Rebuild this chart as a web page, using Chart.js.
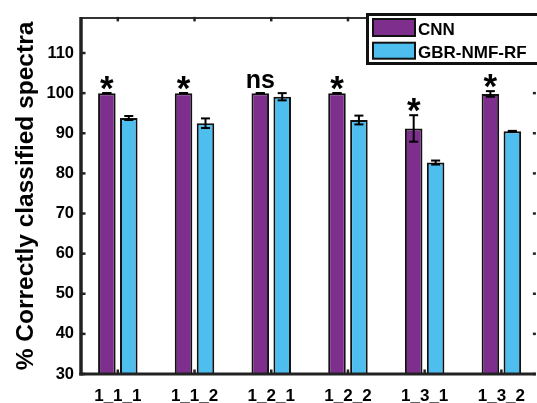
<!DOCTYPE html>
<html>
<head>
<meta charset="utf-8">
<script src="https://cdn.jsdelivr.net/npm/chart.js@4/dist/chart.umd.min.js"></script>
<style>
  html, body { margin: 0; padding: 0; background: #fff; }
  #c { display: block; }
</style>
</head>
<body>
<canvas id="c" width="537" height="403"></canvas>
<script>
// Classification accuracy per spectral subset, two methods
const categories   = ['1_1_1', '1_1_2', '1_2_1', '1_2_2', '1_3_1', '1_3_2'];
const cnnValues    = [100, 100, 100, 100, 91.2, 99.8];
const cnnErrors    = [0, 0, 0, 0, 3.3, 0.7];
const gbrValues    = [93.8, 92.5, 99.1, 93.3, 82.7, 90.5];
const gbrErrors    = [0.5, 1.2, 0.9, 1.1, 0.5, 0.1];
const significance = ['*', '*', 'ns', '*', '*', '*'];
const yTicks       = [30, 40, 50, 60, 70, 80, 90, 100, 110];
const seriesNames  = ['CNN', 'GBR-NMF-RF'];

const FAMILY = "'Liberation Sans', Arial, Helvetica, sans-serif";
const PURPLE = '#7E2F8E';
const CYAN   = '#4DBEEE';
const INK    = '#111';

function line(ctx, x1, y1, x2, y2) {
  ctx.beginPath();
  ctx.moveTo(x1, y1);
  ctx.lineTo(x2, y2);
  ctx.stroke();
}

// Error bars, significance marks, axis frame, legend and y title
const decorations = {
  id: 'decorations',
  afterDatasetsDraw(chart) {
    const { ctx, chartArea: a, scales: { x, y } } = chart;
    ctx.save();

    // error bars
    ctx.strokeStyle = '#000';
    ctx.lineWidth = 2;
    [[cnnValues, cnnErrors], [gbrValues, gbrErrors]].forEach(([vals, errs], di) => {
      chart.getDatasetMeta(di).data.forEach((bar, i) => {
        const yt = y.getPixelForValue(vals[i] + errs[i]);
        const yb = y.getPixelForValue(vals[i] - errs[i]);
        const cw = 4.5;
        line(ctx, bar.x, yt, bar.x, yb);
        line(ctx, bar.x - cw, yt, bar.x + cw, yt);
        line(ctx, bar.x - cw, yb, bar.x + cw, yb);
      });
    });

    // significance marks above the CNN bars
    ctx.fillStyle = '#000';
    ctx.textAlign = 'center';
    ctx.textBaseline = 'alphabetic';
    const cnnMeta = chart.getDatasetMeta(0);
    significance.forEach((s, i) => {
      const bar = cnnMeta.data[i];
      const top = y.getPixelForValue(cnnValues[i] + cnnErrors[i]);
      const star = s === '*';
      ctx.font = `bold ${star ? 35 : 25}px ${FAMILY}`;
      const m = ctx.measureText(s);
      const gap = star ? 3.5 : 5;
      ctx.fillText(s, bar.x, top - gap - m.actualBoundingBoxDescent);
    });

    // frame
    ctx.strokeStyle = '#333';
    ctx.lineWidth = 2;
    line(ctx, a.left, a.top + 1, a.right, a.top + 1);
    ctx.strokeStyle = '#222';
    ctx.lineWidth = 3.5;
    line(ctx, a.left, a.top, a.left, a.bottom + 1.5);
    ctx.lineWidth = 3;
    line(ctx, a.left - 1.7, a.bottom, a.right, a.bottom);

    // inward tick marks
    ctx.lineWidth = 2.5;
    yTicks.forEach(v => {
      const py = y.getPixelForValue(v);
      line(ctx, a.left, py, a.left + 4.5, py);
      line(ctx, a.right - 3, py, a.right, py);
    });
    categories.forEach((c, i) => {
      const px = x.getPixelForValue(i + 1);
      line(ctx, px, a.top, px, a.top + 4.5);
      line(ctx, px, a.bottom, px, a.bottom - 4.5);
    });

    // legend
    ctx.fillStyle = '#fff';
    ctx.fillRect(366, 13, 200, 52);
    ctx.strokeStyle = INK;
    ctx.lineWidth = 3;
    ctx.strokeRect(367.5, 14.5, 200, 49);
    const swatches = [[PURPLE, 19, 17, 34.5], [CYAN, 42.7, 16, 57.5]];
    ctx.font = `bold 17px ${FAMILY}`;
    ctx.textAlign = 'left';
    swatches.forEach(([col, sy, sh, base], k) => {
      ctx.fillStyle = col;
      ctx.fillRect(373, sy, 42, sh);
      ctx.lineWidth = 2;
      ctx.strokeStyle = INK;
      ctx.strokeRect(373, sy, 42, sh);
      ctx.fillStyle = '#000';
      ctx.fillText(seriesNames[k], 418, base);
    });

    // y axis title
    ctx.save();
    ctx.translate(32.5, 196);
    ctx.rotate(-Math.PI / 2);
    ctx.textAlign = 'center';
    ctx.font = `bold 24.5px ${FAMILY}`;
    ctx.fillStyle = '#000';
    ctx.fillText('% Correctly classified spectra', 0, 0);
    ctx.restore();

    ctx.restore();
  }
};

new Chart(document.getElementById('c'), {
  type: 'bar',
  data: {
    datasets: [
      {
        label: seriesNames[0],
        data: cnnValues.map((v, i) => ({ x: i + 1, y: v })),
        backgroundColor: PURPLE,
        borderColor: INK,
        borderWidth: 2
      },
      {
        label: seriesNames[1],
        data: gbrValues.map((v, i) => ({ x: i + 1, y: v })),
        backgroundColor: CYAN,
        borderColor: INK,
        borderWidth: 2
      }
    ]
  },
  options: {
    responsive: false,
    animation: false,
    events: [],
    categoryPercentage: 0.572,
    barPercentage: 0.8,
    layout: { padding: { top: 13, left: 0, right: 0, bottom: 0 } },
    plugins: { legend: { display: false }, tooltip: { enabled: false } },
    scales: {
      x: {
        type: 'linear',
        min: 0.52,
        max: 6.45,
        offset: false,
        grid: { display: false, drawTicks: false },
        border: { display: false },
        afterBuildTicks(scale) { scale.ticks = categories.map((c, i) => ({ value: i + 1 })); },
        afterFit(scale) { scale.height = 29; },
        ticks: {
          autoSkip: false,
          maxRotation: 0,
          padding: 12,
          color: '#000',
          font: { family: FAMILY, size: 17, weight: 'bold' },
          callback: (v) => categories[Math.round(v) - 1]
        }
      },
      y: {
        min: 30,
        max: 119,
        grid: { display: false, drawTicks: false },
        border: { display: false },
        afterBuildTicks(scale) { scale.ticks = yTicks.map(v => ({ value: v })); },
        afterFit(scale) { scale.width = 81; },
        ticks: {
          padding: 7,
          color: '#000',
          font: { family: FAMILY, size: 16.5, weight: 'bold' }
        }
      }
    }
  },
  plugins: [decorations]
});
</script>
</body>
</html>
